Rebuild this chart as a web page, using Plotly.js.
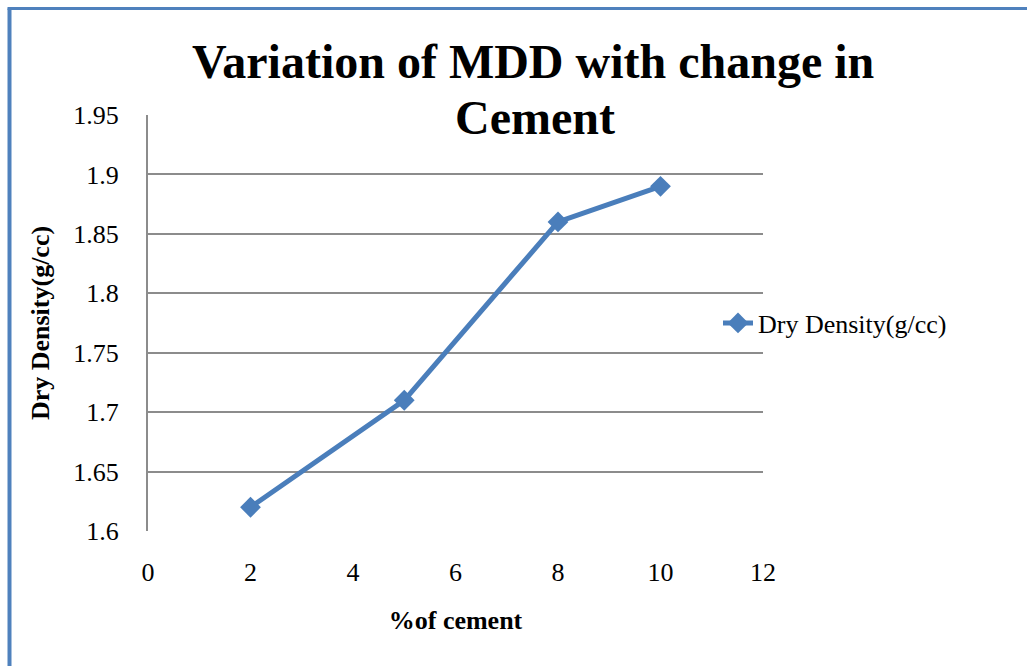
<!DOCTYPE html>
<html>
<head>
<meta charset="utf-8">
<script src="https://cdn.plot.ly/plotly-3.0.1.min.js"></script>
<style>
html,body{margin:0;padding:0;background:#fff;}
#chart{width:1027px;height:666px;}
</style>
</head>
<body>
<div id="chart"></div>
<script>
const cementPct = [2, 5, 8, 10];
const dryDensity = [1.62, 1.71, 1.86, 1.89];
const xTicks = [0, 2, 4, 6, 8, 10, 12];
const yTicks = [1.6, 1.65, 1.7, 1.75, 1.8, 1.85, 1.9, 1.95];
const seriesName = 'Dry Density(g/cc)';
const titleLines = ['Variation of MDD with change in', 'Cement'];

const W = 1027, H = 666;
const L = 148, R = 763, T = 115, B = 531;
const px = v => (v - L) / (R - L);
const py = v => (B - v) / (B - T);

const serif = 'Liberation Serif';
const blue = '#4A7EBB';
const gridC = '#8C8C8C';

const trace = {
  x: cementPct,
  y: dryDensity,
  name: seriesName,
  type: 'scatter',
  mode: 'lines+markers',
  line: {color: blue, width: 5},
  marker: {symbol: 'diamond', size: 16, color: blue},
  showlegend: true
};

const layout = {
  width: W, height: H,
  margin: {l: L, r: W - R, t: T, b: H - B, pad: 0},
  paper_bgcolor: '#fff',
  plot_bgcolor: '#fff',
  font: {family: serif, color: '#000', size: 26},
  xaxis: {
    range: [0, 12],
    tickvals: xTicks,
    ticktext: xTicks.map(String),
    showgrid: false,
    zeroline: false,
    showline: false,
    ticks: '',
    ticklabelstandoff: 23,
    tickfont: {family: serif, size: 26},
    title: {text: '<b>%of cement</b>', font: {family: serif, size: 26}, standoff: 24}
  },
  yaxis: {
    range: [1.6, 1.95],
    tickvals: yTicks,
    ticktext: yTicks.map(v => String(v)),
    showgrid: true,
    gridcolor: gridC,
    gridwidth: 2,
    zeroline: false,
    showline: true,
    linecolor: gridC,
    linewidth: 2,
    ticks: '',
    ticklabelstandoff: 22,
    tickfont: {family: serif, size: 26},
    title: {text: '<b>Dry Density(g/cc)</b>', font: {family: serif, size: 26}, standoff: 16}
  },
  showlegend: true,
  legend: {
    x: px(718), y: py(323), xanchor: 'left', yanchor: 'middle',
    xref: 'paper', yref: 'paper',
    bgcolor: 'rgba(0,0,0,0)',
    font: {family: serif, size: 26, color: '#000'}
  },
  annotations: [
    {text: '<b>' + titleLines[0] + '</b>', xref: 'paper', yref: 'paper',
     x: px(533), y: py(62), xanchor: 'center', yanchor: 'middle', showarrow: false,
     font: {family: serif, size: 48, color: '#000'}},
    {text: '<b>' + titleLines[1] + '</b>', xref: 'paper', yref: 'paper',
     x: px(535), y: py(117), xanchor: 'center', yanchor: 'middle', showarrow: false,
     font: {family: serif, size: 48, color: '#000'}}
  ],
  shapes: [
    {type: 'line', xref: 'paper', yref: 'paper', x0: px(9.5), x1: px(9.5), y0: py(H + 5), y1: py(8.5),
     line: {color: '#4F81BD', width: 4}},
    {type: 'line', xref: 'paper', yref: 'paper', x0: px(7.5), x1: px(W + 5), y0: py(8.5), y1: py(8.5),
     line: {color: '#4F81BD', width: 3}}
  ]
};

Plotly.newPlot('chart', [trace], layout, {displayModeBar: false, staticPlot: true});
</script>
</body>
</html>
